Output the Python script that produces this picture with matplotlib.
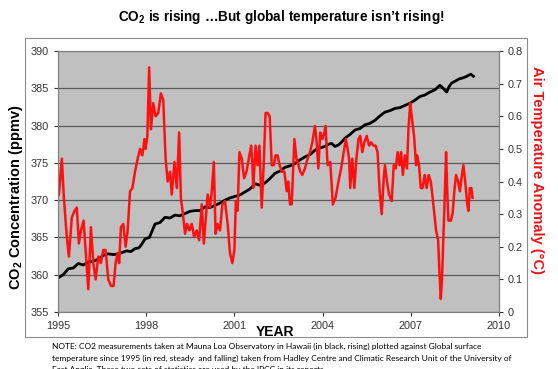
import matplotlib
matplotlib.use("Agg")
import matplotlib.pyplot as plt
from matplotlib.patches import Rectangle

plt.rcParams['font.family'] = ['Liberation Sans', 'DejaVu Sans']
plt.rcParams['mathtext.fontset'] = 'custom'
plt.rcParams['mathtext.rm'] = 'Liberation Sans:bold'
plt.rcParams['mathtext.bf'] = 'Liberation Sans:bold'
plt.rcParams['mathtext.default'] = 'bf'

# CO2 at Mauna Loa (ppmv)
co2_year = [1995.01, 1995.18, 1995.35, 1995.52, 1995.69, 1995.86, 1996.03, 1996.2, 1996.37,
            1996.54, 1996.71, 1996.88, 1997.05, 1997.2, 1997.34, 1997.48, 1997.62, 1997.75,
            1997.85, 1997.96, 1998.11, 1998.3, 1998.47, 1998.64, 1998.81, 1998.98, 1999.15,
            1999.32, 1999.49, 1999.66, 1999.83, 2000.0, 2000.17, 2000.34, 2000.51, 2000.68,
            2000.85, 2001.02, 2001.19, 2001.36, 2001.53, 2001.7, 2001.87, 2002.04, 2002.21,
            2002.38, 2002.55, 2002.72, 2002.89, 2003.06, 2003.23, 2003.4, 2003.57, 2003.74,
            2003.91, 2004.08, 2004.2, 2004.31, 2004.42, 2004.54, 2004.65, 2004.76, 2004.93,
            2005.1, 2005.27, 2005.44, 2005.61, 2005.78, 2005.95, 2006.12, 2006.29, 2006.46,
            2006.63, 2006.8, 2006.97, 2007.14, 2007.31, 2007.48, 2007.65, 2007.82, 2007.99,
            2008.1, 2008.22, 2008.3, 2008.39, 2008.53, 2008.67, 2008.78, 2008.9, 2009.04,
            2009.13]
co2_ppmv = [359.6, 360.0, 360.8, 360.9, 361.5, 361.3, 361.7, 361.8, 362.1,
            362.6, 362.8, 362.7, 362.8, 363.0, 363.2, 363.1, 363.5, 363.6,
            364.1, 364.8, 365.0, 366.8, 367.0, 367.7, 367.6, 368.0, 367.9,
            368.2, 368.5, 368.6, 368.6, 369.1, 369.0, 369.3, 369.6, 370.0,
            370.3, 370.5, 370.7, 371.1, 371.5, 372.2, 372.0, 372.3, 372.9,
            373.6, 373.9, 374.4, 374.6, 374.9, 375.4, 375.8, 376.1, 376.7,
            377.0, 377.2, 377.5, 377.6, 377.2, 377.4, 377.8, 378.3, 378.8,
            379.4, 379.6, 380.1, 380.3, 380.7, 381.3, 381.8, 382.0, 382.3,
            382.4, 382.7, 383.0, 383.4, 383.9, 384.1, 384.5, 384.8, 385.4,
            385.0, 384.5, 385.2, 385.7, 386.0, 386.3, 386.4, 386.6, 386.9,
            386.6]

# global temperature anomaly (deg C)
temp_year = [1995.03, 1995.13, 1995.2, 1995.3, 1995.37, 1995.47, 1995.56, 1995.64, 1995.71,
             1995.78, 1995.87, 1995.94, 1996.03, 1996.12, 1996.2, 1996.28, 1996.37, 1996.46,
             1996.54, 1996.62, 1996.71, 1996.8, 1996.89, 1996.96, 1997.03, 1997.08, 1997.14,
             1997.22, 1997.3, 1997.37, 1997.45, 1997.53, 1997.62, 1997.71, 1997.79, 1997.87,
             1997.94, 1997.98, 1998.04, 1998.1, 1998.16, 1998.24, 1998.32, 1998.41, 1998.5,
             1998.58, 1998.66, 1998.73, 1998.81, 1998.87, 1998.96, 1999.04, 1999.12, 1999.18,
             1999.25, 1999.32, 1999.39, 1999.47, 1999.55, 1999.63, 1999.72, 1999.8, 1999.89,
             1999.96, 2000.03, 2000.09, 2000.17, 2000.23, 2000.3, 2000.36, 2000.43, 2000.51,
             2000.59, 2000.68, 2000.77, 2000.85, 2000.93, 2001.0, 2001.05, 2001.11, 2001.17,
             2001.25, 2001.33, 2001.41, 2001.49, 2001.57, 2001.61, 2001.64, 2001.72, 2001.79,
             2001.85, 2001.93, 2002.0, 2002.06, 2002.13, 2002.2, 2002.27, 2002.34, 2002.4,
             2002.47, 2002.54, 2002.61, 2002.7, 2002.78, 2002.83, 2002.89, 2002.95, 2003.04,
             2003.11, 2003.18, 2003.24, 2003.31, 2003.4, 2003.49, 2003.57, 2003.65, 2003.74,
             2003.79, 2003.855, 2003.92, 2003.99, 2004.06, 2004.1, 2004.17, 2004.26, 2004.35,
             2004.44, 2004.54, 2004.63, 2004.7, 2004.79, 2004.85, 2004.9, 2004.94, 2005.01,
             2005.08, 2005.15, 2005.22, 2005.28, 2005.35, 2005.42, 2005.5, 2005.58, 2005.65,
             2005.73, 2005.8, 2005.87, 2005.94, 2006.01, 2006.08, 2006.12, 2006.19, 2006.26,
             2006.35, 2006.42, 2006.49, 2006.55, 2006.62, 2006.67, 2006.73, 2006.8, 2006.87,
             2006.92, 2006.98, 2007.03, 2007.11, 2007.18, 2007.22, 2007.28, 2007.34, 2007.4,
             2007.47, 2007.54, 2007.61, 2007.68, 2007.72, 2007.79, 2007.86, 2007.93, 2007.97,
             2008.02, 2008.06, 2008.11, 2008.15, 2008.2, 2008.24, 2008.28, 2008.36, 2008.42,
             2008.49, 2008.54, 2008.61, 2008.67, 2008.74, 2008.79, 2008.85, 2008.92, 2008.96,
             2009.01, 2009.06, 2009.1]
temp_anom = [0.36, 0.47, 0.35, 0.23, 0.17, 0.29, 0.31, 0.32, 0.21,
             0.25, 0.28, 0.19, 0.07, 0.26, 0.15, 0.10, 0.17, 0.15,
             0.19, 0.19, 0.10, 0.08, 0.08, 0.15, 0.18, 0.15, 0.26,
             0.27, 0.20, 0.25, 0.37, 0.38, 0.43, 0.47, 0.50, 0.48,
             0.53, 0.50, 0.54, 0.75, 0.56, 0.64, 0.60, 0.61, 0.67,
             0.65, 0.47, 0.40, 0.43, 0.36, 0.46, 0.38, 0.55, 0.35,
             0.30, 0.24, 0.27, 0.25, 0.27, 0.23, 0.25, 0.22, 0.33,
             0.21, 0.29, 0.36, 0.32, 0.37, 0.46, 0.24, 0.27, 0.25,
             0.33, 0.34, 0.27, 0.18, 0.15, 0.19, 0.34, 0.31, 0.49,
             0.47, 0.41, 0.43, 0.47, 0.51, 0.46, 0.38, 0.51, 0.45,
             0.51, 0.32, 0.46, 0.61, 0.61, 0.60, 0.45, 0.45, 0.48,
             0.48, 0.45, 0.43, 0.43, 0.37, 0.40, 0.33, 0.33, 0.53,
             0.47, 0.45, 0.43, 0.42, 0.44, 0.47, 0.49, 0.52, 0.57,
             0.53, 0.44, 0.55, 0.53, 0.55, 0.57, 0.45, 0.46, 0.33,
             0.35, 0.40, 0.44, 0.48, 0.53, 0.50, 0.47, 0.38, 0.47,
             0.38, 0.47, 0.53, 0.54, 0.49, 0.52, 0.54, 0.51, 0.52,
             0.51, 0.51, 0.49, 0.37, 0.30, 0.41, 0.45, 0.40, 0.36,
             0.34, 0.45, 0.44, 0.49, 0.45, 0.49, 0.42, 0.48, 0.44,
             0.56, 0.64, 0.60, 0.54, 0.45, 0.48, 0.45, 0.38, 0.38,
             0.42, 0.38, 0.42, 0.40, 0.37, 0.31, 0.25, 0.22, 0.13,
             0.04, 0.10, 0.23, 0.34, 0.49, 0.37, 0.28, 0.28, 0.30,
             0.38, 0.42, 0.40, 0.37, 0.42, 0.45, 0.40, 0.33, 0.31,
             0.38, 0.38, 0.35]

year_ticks = [1995, 1998, 2001, 2004, 2007, 2010]
co2_ticks = [355, 360, 365, 370, 375, 380, 385, 390]
temp_ticks = [0, 0.1, 0.2, 0.3, 0.4, 0.5, 0.6, 0.7, 0.8]
temp_tick_labels = ["0", "0.1", "0.2", "0.3", "0.4", "0.5", "0.6", "0.7", "0.8"]

note_lines = [
    "NOTE: CO2 measurements taken at Mauna Loa Observatory in Hawaii (in black, rising) plotted against Global surface",
    "temperature since 1995 (in red, steady  and falling) taken from Hadley Centre and Climatic Research Unit of the University of",
    "East Anglia. These two sets of statistics are used by the IPCC in its reports.",
]


def main():
    fig = plt.figure(figsize=(5.58, 3.69), dpi=100)

    # outer chart frame
    fig.patches.append(Rectangle((25 / 558, 1 - 337 / 369), 502 / 558, 299 / 369,
                                 transform=fig.transFigure, fill=False,
                                 edgecolor="#8c8c8c", linewidth=0.8))

    ax = fig.add_axes([58 / 558, 1 - 312 / 369, 441 / 558, 261 / 369])
    ax.set_facecolor("#c0c0c0")
    ax.plot(co2_year, co2_ppmv, color="black", linewidth=2.0)
    ax.set_xlim(1995, 2010)
    ax.set_ylim(355, 390)
    ax.set_xticks(year_ticks)
    ax.set_yticks(co2_ticks)
    ax.grid(axis="y", color="#5a5a5a", linewidth=0.9)
    ax.set_axisbelow(True)
    ax.tick_params(labelsize=7.8, colors="#333333", length=3, width=0.8)

    ax2 = ax.twinx()
    ax2.plot(temp_year, temp_anom, color="#ff1010", linewidth=1.8)
    ax2.set_ylim(0, 0.8)
    ax2.set_yticks(temp_ticks)
    ax2.set_yticklabels(temp_tick_labels)
    ax2.tick_params(labelsize=7.8, colors="#333333", length=3, width=0.8)

    for a in (ax, ax2):
        for s in a.spines.values():
            s.set_color("#808080")
            s.set_linewidth(0.8)

    ax.set_ylabel("CO$_2$ Concentration (ppmv)", fontsize=10.5, fontweight="bold",
                  rotation=90, va="center")
    ax.yaxis.set_label_coords(-0.095, 0.44)
    ax2.set_ylabel("Air Temperature Anomaly (\u00b0C)", fontsize=10.5, fontweight="bold",
                   color="#e8141c", rotation=270, va="center")
    ax2.yaxis.set_label_coords(1.086, 0.545)

    fig.text(275 / 558, 1 - 332 / 369, "YEAR", fontsize=10, fontweight="bold",
             ha="center", va="center")
    fig.text(281 / 558, 1 - 17 / 369, "CO$_2$ is rising \u2026But global temperature isn\u2019t rising!",
             fontsize=9.8, fontweight="bold", ha="center", va="center")

    # the third note line is cut by the bottom edge, as in the source image
    for i, line in enumerate(note_lines):
        fig.text(52 / 558, 1 - (346 + 12 * i) / 369, line, fontsize=6.05,
                 family="Lato", ha="left", va="center")

    fig.savefig("out.png", dpi=100)


if __name__ == "__main__":
    main()
